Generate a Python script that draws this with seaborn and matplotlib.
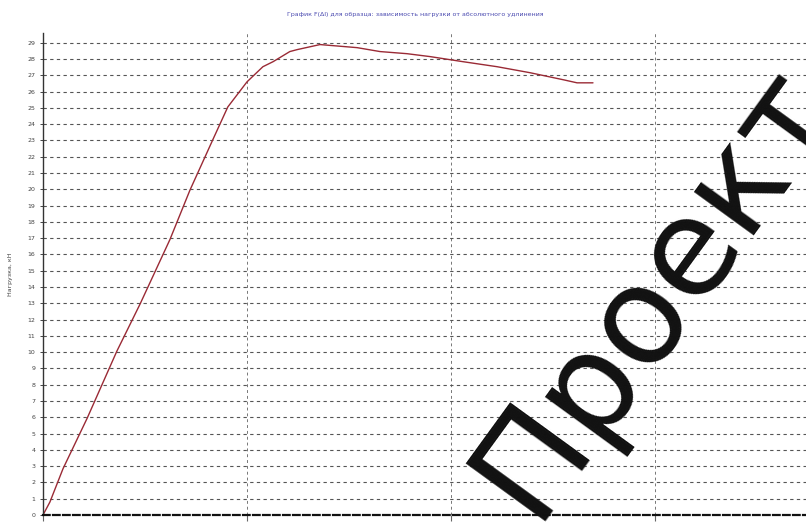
#! /usr/bin/env python
"""
Load vs. elongation curve (tensile test), watermarked draft
"""

import pandas as pd
import seaborn as sns
import matplotlib.pyplot as plt

# elongation, mm
elongation = [0.0, 0.17, 0.49, 1.08, 1.81, 2.38, 3.11, 3.60, 4.17, 4.53, 5.0,
              5.39, 5.64, 6.05, 6.23, 6.79, 7.70, 8.26, 8.92, 9.49, 10.29,
              11.13, 11.94, 12.75, 13.09, 13.48]
# load, kN
load = [0.0, 0.80, 2.84, 5.93, 10.06, 12.96, 16.91, 19.94, 23.09, 25.06, 26.6,
        27.53, 27.84, 28.46, 28.58, 28.89, 28.70, 28.46, 28.33, 28.15, 27.84,
        27.53, 27.16, 26.73, 26.54, 26.54]

y_ticks = list(range(0, 30))
x_ticks = [0, 5, 10, 15]

TITLE = "График F(Δl) для образца: зависимость нагрузки от абсолютного удлинения"
Y_LABEL = "Нагрузка, кН"
WATERMARK = "Проект"


def run() -> None:
    df = pd.DataFrame({"Удлинение": elongation, "Нагрузка": load})

    sns.set_style("white")
    fig = plt.figure(figsize=(8.06, 5.23), dpi=100)
    ax = fig.add_axes([43 / 806, 8 / 523, 763 / 806, 482 / 523])

    sns.lineplot(data=df, x="Удлинение", y="Нагрузка", ax=ax,
                 color="#9a2a35", linewidth=1.0)

    ax.set_xlim(0, 763 / 40.8)
    ax.set_ylim(0, 29.6)
    ax.set_yticks(y_ticks)
    ax.set_xticks(x_ticks)
    ax.tick_params(axis="y", labelsize=4.5, labelcolor="#444444",
                   length=2, width=0.6, direction="out", left=True)
    # x labels fall below the bottom edge of the picture; keep only the marks
    ax.tick_params(axis="x", length=4, width=0.8, color="#666666",
                   direction="out", bottom=True, labelbottom=False)

    # dashed grid
    ax.grid(axis="y", color="#555555", linestyle=(0, (3, 3)), linewidth=0.8)
    ax.grid(axis="x", color="#777777", linestyle=(0, (3, 3)), linewidth=0.7)

    for side in ("top", "right"):
        ax.spines[side].set_visible(False)
    ax.spines["left"].set_color("#333333")
    ax.spines["left"].set_linewidth(1.0)
    ax.spines["bottom"].set_color("#111111")
    ax.spines["bottom"].set_linewidth(1.6)
    ax.spines["bottom"].set_linestyle((0, (3, 1.5)))

    ax.set_xlabel("")
    ax.set_ylabel(Y_LABEL, fontsize=4.5, color="#444444", labelpad=10)
    fig.text(0.515, 0.972, TITLE, ha="center", va="center",
             fontsize=4.5, color="#4a4ab0")

    fig.text(655 / 806, 1 - 290 / 523, WATERMARK, rotation=54,
             rotation_mode="anchor", ha="center", va="center",
             fontsize=98, color="#111111", zorder=10)

    fig.savefig("out.png", dpi=100)


if __name__ == "__main__":
    run()
